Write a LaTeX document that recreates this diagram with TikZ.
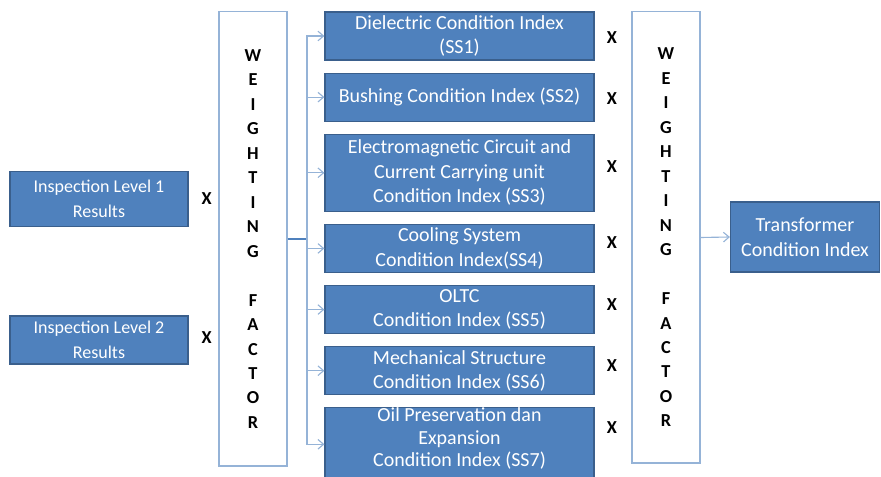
\documentclass[tikz,border=0pt]{standalone}
\usepackage{fontspec}
\setmainfont{Carlito}
\usetikzlibrary{positioning,arrows.meta}
\definecolor{boxblue}{HTML}{4F81BD}
\definecolor{boxedge}{HTML}{3A5F8C}
\definecolor{lineblue}{HTML}{95B3D7}

\begin{document}
\begin{tikzpicture}[x=0.025cm, y=-0.025cm, >={Straight Barb[length=1.4mm,width=2.4mm]}, node distance=0.3cm,
  ssbox/.style={draw=boxedge, fill=boxblue, text=white, line width=0.8pt, minimum width=6.725cm, minimum height=1.2cm, inner ysep=0pt, align=center, font=\fontsize{14.2}{17.4}\selectfont},
  wfbox/.style={draw=lineblue, line width=0.8pt, minimum width=1.7cm, align=center, font=\bfseries\fontsize{13}{17.4}\selectfont},
  times/.style={font=\bfseries\fontsize{13}{15}\selectfont},
  link/.style={->, draw=lineblue, line width=0.8pt}]
  \useasboundingbox (0,0) rectangle (881,477);
  % inputs
  \node[ssbox, minimum width=4.45cm, minimum height=1.375cm, font=\fontsize{12.8}{17.4}\selectfont] (insp1) at (99,199) {Inspection Level 1\\Results};
  \node[ssbox, minimum width=4.45cm, minimum height=1.2cm, font=\fontsize{12.8}{17.4}\selectfont] (insp2) at (99,340) {Inspection Level 2\\Results};
  \node[times, right=0.2cm of insp1] (xl1) {X};
  \node[times, right=0.2cm of insp2, yshift=0.05cm] (xl2) {X};
  % weighting factor columns
  \node[wfbox, minimum height=11.35cm] (wfl) at (253,239) {W\\E\\I\\G\\H\\T\\I\\N\\G\\[17.4pt]F\\A\\C\\T\\O\\R};
  \node[wfbox, minimum height=11.275cm] (wfr) at (666,237.5) {W\\E\\I\\G\\H\\T\\I\\N\\G\\[17.4pt]F\\A\\C\\T\\O\\R};
  % sub-system indices
  \node[ssbox] (ss1) at (459.5,36) {Dielectric Condition Index\\(SS1)};
  \node[ssbox, below=of ss1] (ss2) {Bushing Condition Index (SS2)};
  \node[ssbox, below=of ss2, minimum height=1.925cm] (ss3) {Electromagnetic Circuit and\\Current Carrying unit\\Condition Index (SS3)};
  \node[ssbox, below=of ss3] (ss4) {Cooling System\\Condition Index(SS4)};
  \node[ssbox, below=of ss4] (ss5) {OLTC\\Condition Index (SS5)};
  \node[ssbox, below=of ss5] (ss6) {Mechanical Structure\\Condition Index (SS6)};
  \node[ssbox, below=of ss6, minimum height=1.75cm, text depth=10pt, font=\fontsize{14.2}{16}\selectfont] (ss7) {Oil Preservation dan\\Expansion\\Condition Index (SS7)};
  \foreach \y [count=\i] in {38,99,167,243,305,366,428}
    \node[times] (xr\i) at (612,\y) {X};
  % output
  \node[ssbox, minimum width=3.725cm, minimum height=1.75cm] (tci) at (805,237) {Transformer\\Condition Index};
  % connectors
  \coordinate (split) at (307,239);
  \draw[draw=boxblue, line width=2pt] (wfl.east) -- (split);
  \foreach \n in {ss1,ss2,ss3,ss4,ss5,ss6,ss7}
    \draw[link] (split) |- (\n.west);
  \draw[link] (wfr.east) -- (tci.west);
\end{tikzpicture}
\end{document}
